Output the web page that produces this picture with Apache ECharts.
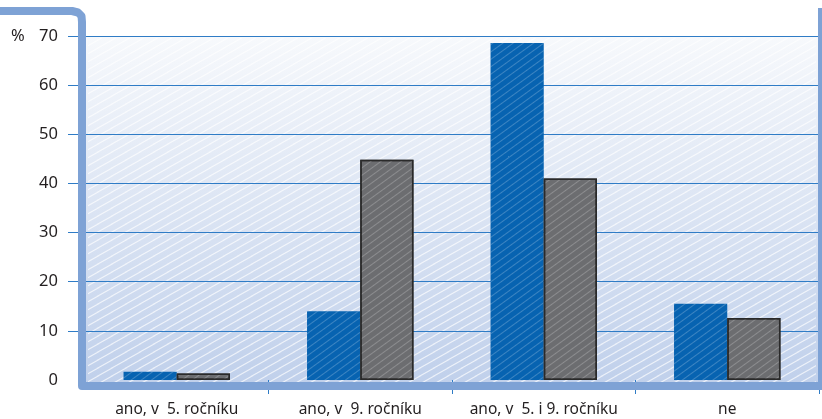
<!DOCTYPE html>
<html><head><meta charset="utf-8">
<script src="https://cdn.jsdelivr.net/npm/echarts@6/dist/echarts.min.js"></script>
<style>html,body{margin:0;padding:0;background:#fff}#c{width:822px;height:419px}</style>
</head><body><div id="c"></div>
<script>
const categories = ['ano, v  5. ročníku', 'ano, v  9. ročníku', 'ano, v  5. i 9. ročníku', 'ne'];
const seriesBlue = [1.7, 14.0, 68.6, 15.5];
const seriesGrey = [1.3, 44.8, 41.0, 12.6];
const yTicks = [0, 10, 20, 30, 40, 50, 60, 70];

const chart = echarts.init(document.getElementById('c'), null, {renderer: 'canvas'});
const FONT = 'Noto Sans';
const hatch = {symbol: 'rect', symbolSize: 1, dashArrayX: [[1, 0]], dashArrayY: [1, 5], rotation: -Math.PI / 5, color: 'rgba(255,255,255,0.22)'};

// background hatch pattern
const pc = document.createElement('canvas');
pc.width = 14; pc.height = 8;
const pctx = pc.getContext('2d');
pctx.strokeStyle = 'rgba(255,255,255,0.7)';
pctx.lineWidth = 1.2;
pctx.beginPath();
pctx.moveTo(-2, 9); pctx.lineTo(16, -1);
pctx.moveTo(-16, 9); pctx.lineTo(2, -1);
pctx.moveTo(12, 9); pctx.lineTo(30, -1);
pctx.stroke();

chart.setOption({
  animation: false,
  grid: {left: 85, right: 3, top: 36, bottom: 39},
  xAxis: {
    type: 'category', data: categories,
    axisLine: {show: false},
    axisTick: {show: true, length: 14, inside: false, lineStyle: {color: '#2f7cc6', width: 1}},
    axisLabel: {interval: 0, margin: 22, fontFamily: FONT, fontSize: 15.5, color: '#231f20'}
  },
  yAxis: {
    type: 'value', min: yTicks[0], max: yTicks[yTicks.length - 1], interval: 10,
    axisLine: {show: false},
    axisTick: {show: true, length: 17, customValues: yTicks.slice(1), lineStyle: {color: '#2f7cc6', width: 1}},
    axisLabel: {margin: 27, fontFamily: FONT, fontSize: 16.5, color: '#231f20'},
    splitLine: {lineStyle: {color: '#2f7cc6', width: 1}}
  },
  graphic: [
    {type: 'rect', z: -10, shape: {x: 84, y: 36, width: 735, height: 348},
     style: {fill: new echarts.graphic.LinearGradient(0, 0, 0, 1, [
       {offset: 0, color: '#f7f9fc'}, {offset: 1, color: '#c0d0eb'}])}},
    {type: 'rect', z: -9, shape: {x: 88, y: 38, width: 728, height: 344},
     style: {fill: {image: pc, repeat: 'repeat'}}},
    {type: 'polyline', z: 100, shape: {points: [[0, 11], [72, 11], [78, 12.5], [81.5, 16], [82, 22], [82, 386], [822, 386]]},
     style: {fill: null, stroke: '#7ea2d5', lineWidth: 8, lineJoin: 'round'}},
    {type: 'rect', z: 99, shape: {x: 84, y: 389, width: 3, height: 10}, style: {fill: '#ffffff'}},
    {type: 'line', z: 100, shape: {x1: 820, y1: 8, x2: 820, y2: 386},
     style: {stroke: '#7ea2d5', lineWidth: 4}},
    {type: 'text', z: 100, x: 11, y: 36,
     style: {text: '%', font: '16.5px "Noto Sans"', fill: '#231f20', verticalAlign: 'middle'}}
  ],
  series: [
    {type: 'bar', data: seriesBlue, barGap: '0%', barCategoryGap: '42%',
     itemStyle: {color: '#0763b1', borderWidth: 0, decal: hatch}},
    {type: 'bar', data: seriesGrey,
     itemStyle: {color: '#6c6d70', borderColor: '#2a2a2a', borderWidth: 1.5, decal: hatch}}
  ]
});
</script></body></html>
